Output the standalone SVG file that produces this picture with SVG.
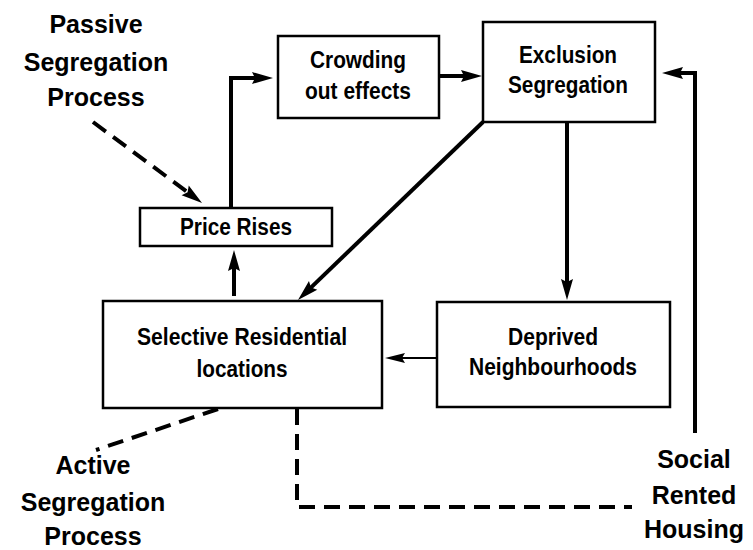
<svg xmlns="http://www.w3.org/2000/svg" width="753" height="550" viewBox="0 0 753 550">
<style>
.box{fill:#fff;stroke:#000;stroke-width:2.5}
.nt{font-family:"Liberation Sans",Arial,sans-serif;font-weight:bold;font-size:23px;text-anchor:middle;fill:#000}
.lb{font-family:"Liberation Sans",Arial,sans-serif;font-weight:bold;font-size:25px;text-anchor:middle;fill:#000}
.c{fill:none;stroke:#000;stroke-width:4;stroke-linejoin:miter}
.thin{stroke-width:2}
.dash{stroke-dasharray:16 9}
</style>
<defs>
<marker id="ah" viewBox="-22 -7 24 14" markerWidth="24" markerHeight="14" refX="-15" refY="0" orient="auto" markerUnits="userSpaceOnUse">
<path d="M0,0 L-21,-6 L-18,0 L-21,6 Z" fill="#000"/>
</marker>
<marker id="ahs" viewBox="-22 -7 24 14" markerWidth="24" markerHeight="14" refX="-15" refY="0" orient="auto" markerUnits="userSpaceOnUse">
<path d="M0,0 L-20,-5 L-17,0 L-20,5 Z" fill="#000"/>
</marker>
</defs>
<rect width="753" height="550" fill="#fff"/>
<g id="connectors">
<path class="c" d="M231,208 V78 H258" marker-end="url(#ah)"/>
<path class="c" d="M440,76 H467" marker-end="url(#ah)"/>
<path class="c" d="M695,433 V73 H677" marker-end="url(#ah)"/>
<path class="c" d="M567,122 V285" marker-end="url(#ah)"/>
<path class="c" d="M483,122 L308.8,289.6" marker-end="url(#ah)"/>
<path class="c" d="M234,296 V265" marker-end="url(#ah)"/>
<path class="c thin" d="M437,358 H400" marker-end="url(#ahs)"/>
<path class="c dash" d="M93,122 L190,194" marker-end="url(#ah)"/>
<path class="c dash" d="M218,409 L96,450"/>
<path class="c dash" d="M297,409 V507 H632"/>
</g>
<g id="crowding">
<rect class="box" x="278" y="36" width="161" height="82"/>
<text class="nt" x="358" y="68" textLength="96" lengthAdjust="spacingAndGlyphs">Crowding</text>
<text class="nt" x="358" y="99" textLength="106" lengthAdjust="spacingAndGlyphs">out effects</text>
</g>
<g id="exclusion">
<rect class="box" x="483" y="22" width="172" height="100"/>
<text class="nt" x="568" y="63" textLength="98" lengthAdjust="spacingAndGlyphs">Exclusion</text>
<text class="nt" x="568" y="93" textLength="120" lengthAdjust="spacingAndGlyphs">Segregation</text>
</g>
<g id="price">
<rect class="box" x="140" y="208" width="192" height="38"/>
<text class="nt" x="236" y="235" textLength="112" lengthAdjust="spacingAndGlyphs">Price Rises</text>
</g>
<g id="selective">
<rect class="box" x="103" y="301" width="279" height="107"/>
<text class="nt" x="242" y="345" textLength="210" lengthAdjust="spacingAndGlyphs">Selective Residential</text>
<text class="nt" x="242" y="377" textLength="91" lengthAdjust="spacingAndGlyphs">locations</text>
</g>
<g id="deprived">
<rect class="box" x="437" y="302" width="233" height="105"/>
<text class="nt" x="553" y="345" textLength="90" lengthAdjust="spacingAndGlyphs">Deprived</text>
<text class="nt" x="553" y="375" textLength="168" lengthAdjust="spacingAndGlyphs">Neighbourhoods</text>
</g>
<g id="passive">
<text class="lb" x="96" y="33">Passive</text>
<text class="lb" x="96" y="71">Segregation</text>
<text class="lb" x="96" y="106">Process</text>
</g>
<g id="active">
<text class="lb" x="93" y="474">Active</text>
<text class="lb" x="93" y="511">Segregation</text>
<text class="lb" x="93" y="545">Process</text>
</g>
<g id="social">
<text class="lb" x="694" y="468">Social</text>
<text class="lb" x="694" y="504">Rented</text>
<text class="lb" x="694" y="538">Housing</text>
</g>
</svg>
